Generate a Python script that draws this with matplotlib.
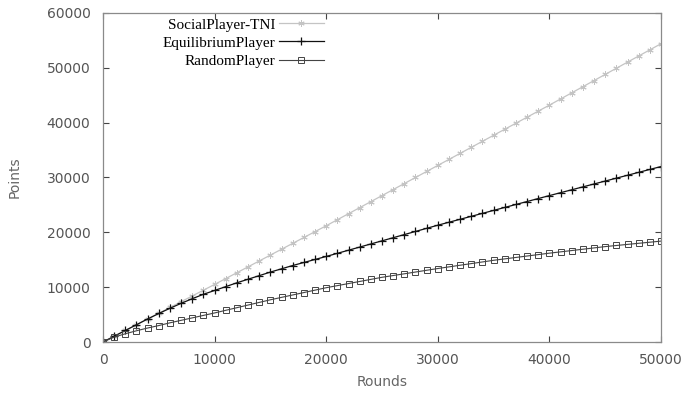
import matplotlib
matplotlib.use("Agg")
import matplotlib.pyplot as plt
import numpy as np

rounds = list(range(0, 50001, 1000))

social_tni = [0, 1050, 2100, 3150, 4200, 5250, 6300, 7350, 8400, 9450,
              10500, 11570, 12640, 13710, 14780, 15850, 16920, 17990, 19060, 20130,
              21200, 22300, 23400, 24500, 25600, 26700, 27800, 28900, 30000, 31100,
              32200, 33300, 34400, 35500, 36600, 37700, 38800, 39900, 41000, 42100,
              43200, 44320, 45440, 46560, 47680, 48800, 49920, 51040, 52160, 53280,
              54400]

equilibrium = [0, 1050, 2100, 3150, 4200, 5200, 6150, 7050, 7900, 8700,
               9400, 10100, 10800, 11450, 12100, 12750, 13350, 13950, 14500, 15050,
               15600, 16170, 16740, 17310, 17880, 18450, 19020, 19590, 20160, 20730,
               21300, 21840, 22380, 22920, 23460, 24000, 24540, 25080, 25620, 26160,
               26700, 27230, 27760, 28290, 28820, 29350, 29880, 30410, 30940, 31470,
               32000]

random_player = [0, 900, 1500, 2050, 2550, 3000, 3500, 3950, 4400, 4850,
                 5300, 5780, 6260, 6740, 7220, 7700, 8140, 8580, 9020, 9460,
                 9900, 10280, 10660, 11040, 11420, 11800, 12120, 12440, 12760, 13080,
                 13400, 13700, 14000, 14300, 14600, 14900, 15160, 15420, 15680, 15940,
                 16200, 16440, 16680, 16920, 17160, 17400, 17600, 17800, 18000, 18200,
                 18400]

labels = ["SocialPlayer-TNI", "EquilibriumPlayer", "RandomPlayer"]
xticks = [0, 10000, 20000, 30000, 40000, 50000]
yticks = [0, 10000, 20000, 30000, 40000, 50000, 60000]

fig = plt.figure(figsize=(6.84, 3.93), dpi=100)
ax = fig.add_axes([103/684, (393-342)/393, 558/684, 329/393])

ax.plot(rounds, social_tni, color="#c4c4c4", lw=0.9, marker=(6, 2, 0),
        ms=4.5, mew=0.7, label=labels[0])
ax.plot(rounds, equilibrium, color="#111111", lw=0.9, marker="+",
        ms=6, mew=0.9, label=labels[1])
ax.plot(rounds, random_player, color="#444444", lw=0.8, marker="s",
        ms=3.8, mew=0.7, mfc="none", label=labels[2])

ax.set_xlim(0, 50000)
ax.set_ylim(0, 60000)
ax.set_xticks(xticks)
ax.set_yticks(yticks)
ax.set_xticklabels([str(v) for v in xticks])
ax.set_yticklabels([str(v) for v in yticks])
ax.tick_params(direction="in", top=True, right=True, length=4, width=0.8,
               colors="#444444", labelcolor="#555555", labelsize=10)
ax.tick_params(axis="x", pad=8)
ax.tick_params(axis="y", pad=9)
for s in ax.spines.values():
    s.set_color("#8a8a8a")
    s.set_linewidth(0.9)

ax.set_xlabel("Rounds", color="#666666", fontsize=10, labelpad=6)
ax.set_ylabel("Points", color="#666666", fontsize=10, labelpad=18)

leg = ax.legend(loc="upper right", bbox_to_anchor=(0.398, 0.99), frameon=False,
                markerfirst=False, prop={"family": "Liberation Serif", "size": 11},
                handlelength=2.9, handletextpad=0.25, labelspacing=0.3,
                borderpad=0.1, borderaxespad=0.0)

fig.savefig("out.png", dpi=100, facecolor="white")
